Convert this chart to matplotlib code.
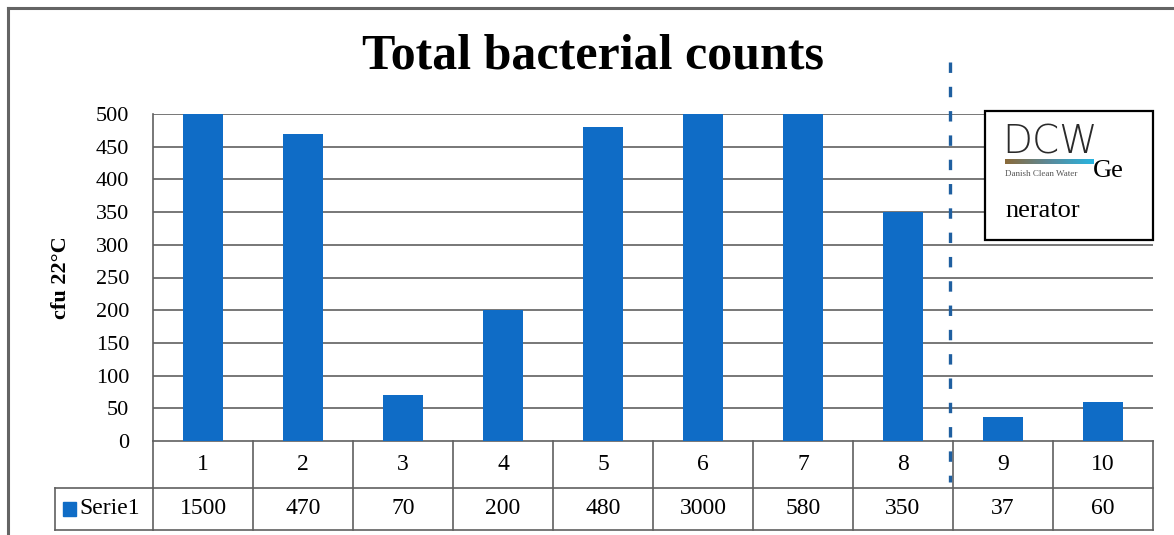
import numpy as np
import matplotlib
matplotlib.use("Agg")
import matplotlib.pyplot as plt
from matplotlib.patches import Rectangle
from matplotlib.lines import Line2D

# data
categories = ["1", "2", "3", "4", "5", "6", "7", "8", "9", "10"]
values = [1500, 470, 70, 200, 480, 3000, 580, 350, 37, 60]
series_name = "Serie1"
y_ticks = [0, 50, 100, 150, 200, 250, 300, 350, 400, 450, 500]

bar_color = "#0F6CC6"
grid_color = "#606060"
plt.rcParams["font.family"] = ["Liberation Serif", "DejaVu Serif"]
plt.rcParams["lines.scale_dashes"] = False

fig = plt.figure(figsize=(11.74, 5.35), dpi=100)
W, H = 1174, 535

def fx(px):
    return px / W

def fy(py):
    return 1 - py / H

# outer chart frame (top and left edges visible)
fig.add_artist(Line2D([fx(8), fx(8)], [fy(8), 0], color="#646464", lw=2.2))
fig.add_artist(Line2D([fx(8), 1], [fy(8), fy(8)], color="#646464", lw=2.2))

ax = fig.add_axes([fx(153), fy(441), fx(1153) - fx(153), fy(114) - fy(441)])
x = np.arange(len(categories))
ax.bar(x, values, width=0.4, color=bar_color, zorder=3)
ax.set_xlim(-0.5, len(categories) - 0.5)
ax.set_ylim(0, 500)
ax.set_yticks(y_ticks)
ax.set_yticklabels([str(t) for t in y_ticks], fontsize=16)
ax.tick_params(axis="y", length=0, pad=17)
ax.set_xticks([])
for t in y_ticks[1:]:
    ax.axhline(t, color=grid_color, lw=1.2, zorder=1)
for s in ["top", "right", "bottom"]:
    ax.spines[s].set_visible(False)
ax.spines["left"].set_color(grid_color)
ax.spines["left"].set_linewidth(1.2)
ax.set_ylabel("cfu 22°C", fontsize=16, fontweight="bold", labelpad=18)

# data table under the axis
ph = fy(114) - fy(441)
r1 = -(488 - 441) / (H * ph)
r2 = -(530 - 441) / (H * ph)
tr = ax.get_xaxis_transform()
edges = np.arange(len(categories) + 1) - 0.5
for e in edges:
    ax.add_line(Line2D([e, e], [0, r2], transform=tr, color=grid_color, lw=1.2, clip_on=False))
ax.add_line(Line2D([-0.5, edges[-1]], [0, 0], transform=tr, color=grid_color, lw=1.2, clip_on=False))
ax.add_line(Line2D([-0.5, edges[-1]], [r1, r1], transform=tr, color=grid_color, lw=1.2, clip_on=False))
ax.add_line(Line2D([-0.5, edges[-1]], [r2, r2], transform=tr, color=grid_color, lw=1.2, clip_on=False))
# legend cell
lx = -0.5 - (153 - 55) / 100
ax.add_line(Line2D([lx, -0.5], [r1, r1], transform=tr, color=grid_color, lw=1.2, clip_on=False))
ax.add_line(Line2D([lx, -0.5], [r2, r2], transform=tr, color=grid_color, lw=1.2, clip_on=False))
ax.add_line(Line2D([lx, lx], [r1, r2], transform=tr, color=grid_color, lw=1.2, clip_on=False))
ax.add_patch(Rectangle((lx + 0.08, (r1 + r2) / 2 - 0.02), 0.13, 0.042, transform=tr,
                       color=bar_color, clip_on=False))
ax.text(lx + 0.24, (r1 + r2) / 2, series_name, transform=tr, fontsize=17,
        va="center", ha="left")
for i, (c, v) in enumerate(zip(categories, values)):
    ax.text(i, r1 / 2, c, transform=tr, fontsize=17, ha="center", va="center")
    ax.text(i, (r1 + r2) / 2, str(v), transform=tr, fontsize=17, ha="center", va="center")

# dashed separator
ax.add_line(Line2D([7.47, 7.47], [1.16, -0.125], transform=tr, color="#1F5FA0", lw=2.4,
                   dashes=(7.5, 10), clip_on=False, zorder=5))

# title
fig.text(0.505, fy(57), "Total bacterial counts", ha="center", va="center",
         fontsize=36, fontweight="bold")

# logo box
fig.add_artist(Rectangle((fx(985), fy(240)), fx(1153) - fx(985), fy(111) - fy(240),
                         facecolor="white", edgecolor="black", lw=1.6, zorder=10))
fig.text(fx(1002), fy(142), "DCW", fontsize=28, color="#2a2a2a", family="DejaVu Sans",
         fontweight="light", ha="left", va="center", zorder=11)
gax = fig.add_axes([fx(1005), fy(164), fx(1094) - fx(1005), fy(159) - fy(164)], zorder=12)
grad = np.linspace(0, 1, 100)
cmap = matplotlib.colors.LinearSegmentedColormap.from_list("dcw", ["#8a6a3a", "#5a8a9a", "#28b4e0"])
gax.imshow(grad[None, :], aspect="auto", cmap=cmap)
gax.axis("off")
fig.text(fx(1005), fy(174), "Danish Clean Water", fontsize=6.5, color="#555555",
         ha="left", va="center", zorder=11)
fig.text(fx(1093), fy(171), "Ge", fontsize=19, ha="left", va="center", zorder=11)
fig.text(fx(1005), fy(211), "nerator", fontsize=19, ha="left", va="center", zorder=11)

fig.savefig("out.png", dpi=100)
